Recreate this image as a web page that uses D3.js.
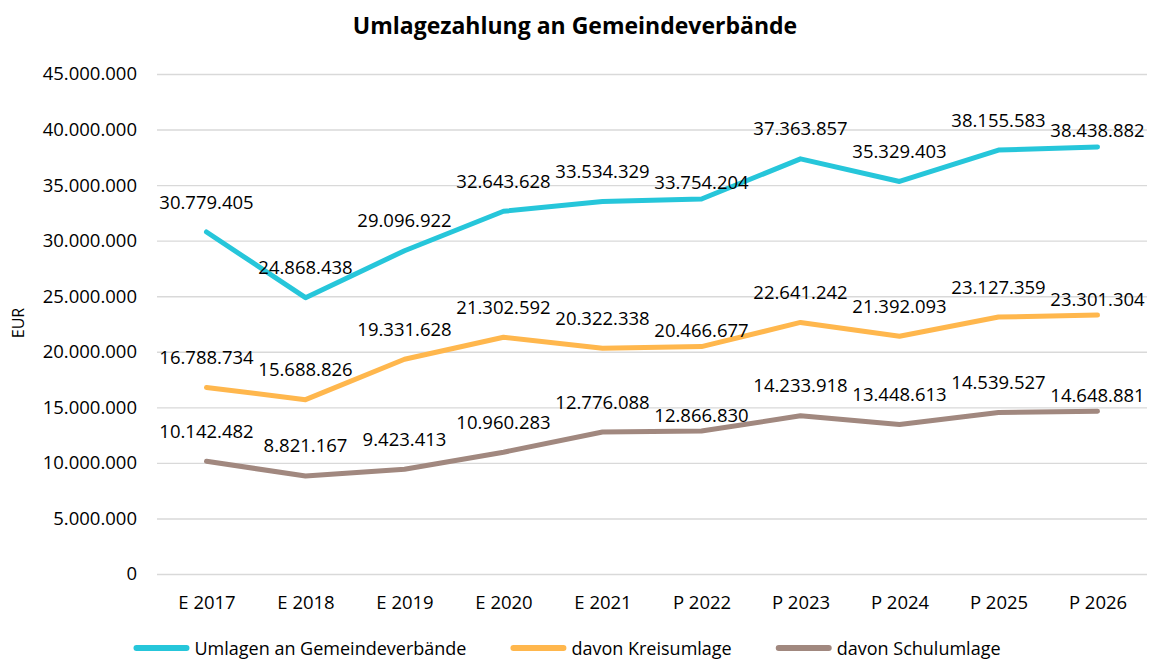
<!DOCTYPE html>
<html>
<head>
<meta charset="utf-8">
<script src="https://cdn.jsdelivr.net/npm/d3@7"></script>
<style>
  html, body { margin: 0; padding: 0; background: #fff; }
  svg text { font-family: "Open Sans", "Noto Sans", sans-serif; fill: #000; }
</style>
</head>
<body>
<div id="chart"></div>
<script>
const categories = ["E 2017", "E 2018", "E 2019", "E 2020", "E 2021", "P 2022", "P 2023", "P 2024", "P 2025", "P 2026"];
const umlagen = [30779405, 24868438, 29096922, 32643628, 33534329, 33754204, 37363857, 35329403, 38155583, 38438882];
const kreisumlage = [16788734, 15688826, 19331628, 21302592, 20322338, 20466677, 22641242, 21392093, 23127359, 23301304];
const schulumlage = [10142482, 8821167, 9423413, 10960283, 12776088, 12866830, 14233918, 13448613, 14539527, 14648881];
const seriesNames = ["Umlagen an Gemeindeverbände", "davon Kreisumlage", "davon Schulumlage"];
const yTicks = [0, 5000000, 10000000, 15000000, 20000000, 25000000, 30000000, 35000000, 40000000, 45000000];

const width = 1150;
const height = 660;
const colors = ["#26C6DA", "#FFB74D", "#A1887F"];
const series = [umlagen, kreisumlage, schulumlage].map((values, i) => {
    return { name: seriesNames[i], color: colors[i], values: values };
});

const de = d3.formatLocale({ decimal: ",", thousands: ".", grouping: [3], currency: ["", " €"] });
const fmt = de.format(",d");

const svg = d3.select("#chart")
    .append("svg")
    .attr("width", width)
    .attr("height", height);

const x = d3.scalePoint()
    .domain(categories)
    .range([157, 1147])
    .padding(0.5);
const y = d3.scaleLinear()
    .domain([0, 45000000])
    .range([574, 74]);

// title
svg.append("text")
    .attr("x", 575)
    .attr("y", 34)
    .attr("text-anchor", "middle")
    .style("font-size", "23px")
    .style("font-weight", "bold")
    .text("Umlagezahlung an Gemeindeverbände");

// gridlines + y labels
const yAxis = d3.axisLeft(y)
    .tickValues(yTicks)
    .tickSize(-(1147 - 157))
    .tickPadding(20)
    .tickFormat(fmt);
svg.append("g")
    .attr("transform", "translate(157,0)")
    .call(yAxis)
    .call((g) => g.select(".domain").remove())
    .call((g) => g.selectAll("line").attr("stroke", "#d9d9d9").attr("stroke-width", 1.4))
    .call((g) => g.selectAll("text").style("font-size", "18.5px").attr("fill", "#000"));

// x labels
const xAxis = d3.axisBottom(x).tickSize(0).tickPadding(22);
svg.append("g")
    .attr("transform", "translate(0,574)")
    .call(xAxis)
    .call((g) => g.select(".domain").remove())
    .call((g) => g.selectAll("text").style("font-size", "18.5px").attr("fill", "#000"));

// y title
svg.append("text")
    .attr("transform", "translate(24,323) rotate(-90)")
    .attr("text-anchor", "middle")
    .style("font-size", "16px")
    .text("EUR");

const line = d3.line()
    .x((d, i) => x(categories[i]))
    .y((d) => y(d));

svg.append("g")
    .selectAll("path")
    .data(series)
    .enter().append("path")
    .attr("d", (d) => line(d.values))
    .attr("fill", "none")
    .attr("stroke", (d) => d.color)
    .attr("stroke-width", 5)
    .attr("stroke-linejoin", "round")
    .attr("stroke-linecap", "round");

// data labels, above the points; a few are pulled closer to the line
const labelNudge = { "P 2022": 14, "P 2026": 14 };
series.forEach((s) => {
    svg.append("g")
        .selectAll("text")
        .data(s.values)
        .enter().append("text")
        .attr("x", (d, i) => x(categories[i]))
        .attr("y", (d, i) => y(d) - 31 + (labelNudge[categories[i]] || 0))
        .attr("text-anchor", "middle")
        .attr("dominant-baseline", "central")
        .style("font-size", "18.5px")
        .text((d) => fmt(d));
});

// legend
const legend = svg.append("g");
let lx = 0;
series.forEach((s) => {
    const item = legend.append("g").attr("transform", "translate(" + lx + ",0)");
    item.append("line")
        .attr("x1", 3).attr("x2", 53)
        .attr("y1", 0).attr("y2", 0)
        .attr("stroke", s.color)
        .attr("stroke-width", 6)
        .attr("stroke-linecap", "round");
    const t = item.append("text")
        .attr("x", 61)
        .attr("y", 0)
        .attr("dominant-baseline", "central")
        .style("font-size", "18px")
        .text(s.name);
    lx += 61 + t.node().getComputedTextLength() + 44;
});
const legendWidth = lx - 44;
legend.attr("transform", "translate(" + (567 - legendWidth / 2) + ",648)");
</script>
</body>
</html>
